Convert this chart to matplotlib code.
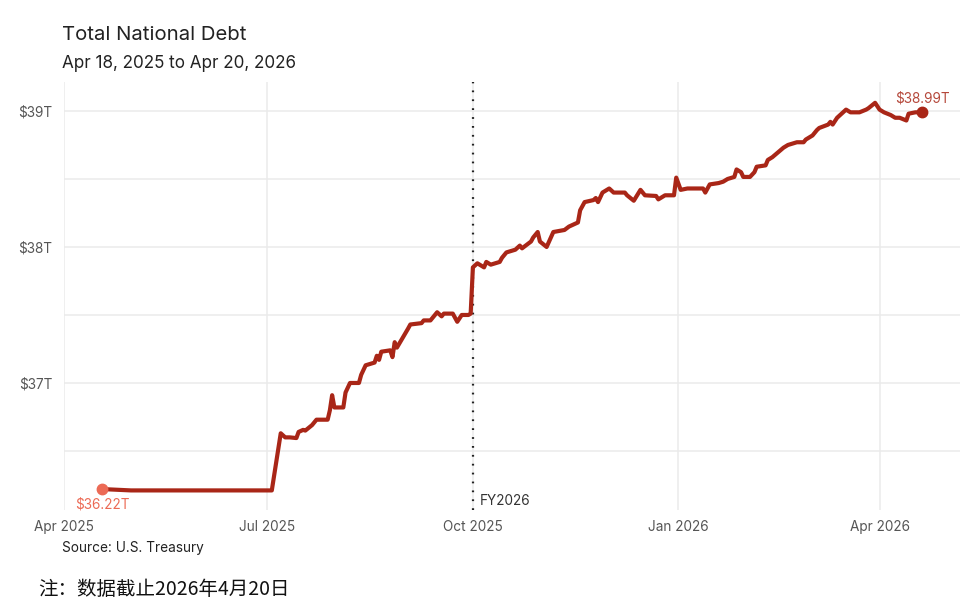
import matplotlib
matplotlib.use("Agg")
import matplotlib.pyplot as plt
import matplotlib.dates as mdates
import pandas as pd
import numpy as np

plt.rcParams['font.family'] = ['Inter', 'Noto Sans CJK SC', 'DejaVu Sans']

# ---------------- data ----------------
dates = [
    "2025-04-18", "2025-05-01", "2025-05-15", "2025-06-02", "2025-06-16", "2025-07-02", "2025-07-03",
    "2025-07-07", "2025-07-09", "2025-07-11", "2025-07-14", "2025-07-15", "2025-07-17", "2025-07-18",
    "2025-07-21", "2025-07-23", "2025-07-28", "2025-07-29", "2025-07-30", "2025-07-31", "2025-08-04",
    "2025-08-05", "2025-08-07", "2025-08-11", "2025-08-12", "2025-08-14", "2025-08-18", "2025-08-19",
    "2025-08-20", "2025-08-21", "2025-08-25", "2025-08-26", "2025-08-27", "2025-08-28", "2025-09-02",
    "2025-09-03", "2025-09-08", "2025-09-09", "2025-09-12", "2025-09-15", "2025-09-17", "2025-09-18",
    "2025-09-22", "2025-09-24", "2025-09-26", "2025-09-29", "2025-09-30", "2025-10-01", "2025-10-03",
    "2025-10-06", "2025-10-07", "2025-10-09", "2025-10-13", "2025-10-14", "2025-10-16", "2025-10-20",
    "2025-10-22", "2025-10-23", "2025-10-27", "2025-10-28", "2025-10-30", "2025-10-31", "2025-11-03",
    "2025-11-06", "2025-11-11", "2025-11-13", "2025-11-17", "2025-11-18", "2025-11-20", "2025-11-24",
    "2025-11-25", "2025-11-26", "2025-11-28", "2025-12-01", "2025-12-03", "2025-12-08", "2025-12-09",
    "2025-12-12", "2025-12-15", "2025-12-17", "2025-12-22", "2025-12-23", "2025-12-26", "2025-12-30",
    "2025-12-31", "2026-01-02", "2026-01-05", "2026-01-07", "2026-01-12", "2026-01-13", "2026-01-15",
    "2026-01-19", "2026-01-21", "2026-01-23", "2026-01-26", "2026-01-27", "2026-01-29", "2026-01-30",
    "2026-02-02", "2026-02-04", "2026-02-05", "2026-02-09", "2026-02-10", "2026-02-12", "2026-02-17",
    "2026-02-19", "2026-02-23", "2026-02-26", "2026-02-27", "2026-03-02", "2026-03-04", "2026-03-05",
    "2026-03-09", "2026-03-10", "2026-03-11", "2026-03-13", "2026-03-17", "2026-03-19", "2026-03-23",
    "2026-03-26", "2026-03-27", "2026-03-30", "2026-04-01", "2026-04-03", "2026-04-06", "2026-04-08",
    "2026-04-10", "2026-04-13", "2026-04-14", "2026-04-17", "2026-04-20",
]
debt_trillions = [
    36.22, 36.21, 36.21, 36.21, 36.21, 36.21, 36.21,
    36.63, 36.60, 36.60, 36.595, 36.64, 36.655, 36.65,
    36.69, 36.73, 36.73, 36.80, 36.91, 36.82, 36.82,
    36.93, 37.00, 37.00, 37.06, 37.13, 37.15, 37.20,
    37.17, 37.23, 37.24, 37.19, 37.30, 37.26, 37.40,
    37.43, 37.44, 37.46, 37.46, 37.52, 37.49, 37.51,
    37.51, 37.45, 37.50, 37.50, 37.51, 37.85, 37.88,
    37.85, 37.89, 37.87, 37.89, 37.92, 37.96, 37.98,
    38.01, 37.99, 38.04, 38.07, 38.11, 38.04, 38.00,
    38.11, 38.125, 38.15, 38.18, 38.27, 38.33, 38.345,
    38.36, 38.33, 38.40, 38.43, 38.40, 38.40, 38.38,
    38.34, 38.42, 38.38, 38.375, 38.35, 38.38, 38.38,
    38.51, 38.42, 38.43, 38.43, 38.43, 38.40, 38.46,
    38.47, 38.48, 38.50, 38.515, 38.57, 38.55, 38.515,
    38.515, 38.55, 38.59, 38.60, 38.64, 38.66, 38.73,
    38.75, 38.77, 38.77, 38.79, 38.82, 38.86, 38.875,
    38.90, 38.92, 38.90, 38.95, 39.01, 38.99, 38.99,
    39.01, 39.02, 39.06, 39.01, 38.99, 38.97, 38.95,
    38.95, 38.93, 38.98, 38.99, 38.99,
]
y_major = [37, 38, 39]
y_minor = [36.5, 37.5, 38.5]
y_labels = ["$37T", "$38T", "$39T"]
x_ticks = ["2025-04-01", "2025-07-01", "2025-10-01", "2026-01-01", "2026-04-01"]
x_labels = ["Apr 2025", "Jul 2025", "Oct 2025", "Jan 2026", "Apr 2026"]
fy_date = "2025-10-01"
start_label = "$36.22T"
end_label = "$38.99T"

title = "Total National Debt"
subtitle = "Apr 18, 2025 to Apr 20, 2026"
source = "Source: U.S. Treasury"
note = "注：数据截止2026年4月20日"

# ---------------- plot ----------------
x = pd.to_datetime(dates)
y = np.array(debt_trillions)

W, H = 967, 602
fig = plt.figure(figsize=(W / 100, H / 100), dpi=100)
fig.patch.set_facecolor("white")
ax = fig.add_axes([64 / W, 1 - 510 / H, (960 - 64) / W, (510 - 82) / H])

line_color = "#a92617"
start_color = "#ec6a55"
grid_color = "#ebebeb"

ax.set_xlim(pd.Timestamp("2025-04-01"), pd.Timestamp("2026-05-07"))
ax.set_ylim(36.066, 39.213)

for v in y_major + y_minor:
    ax.axhline(v, color=grid_color, lw=1.1, zorder=0)
for t in x_ticks:
    ax.axvline(pd.Timestamp(t), color=grid_color, lw=1.1, zorder=0)

ax.axvline(pd.Timestamp(fy_date), color="#222222", lw=1.6, ls=(0, (0.8, 3.2)), zorder=1)
ax.text(pd.Timestamp(fy_date) + pd.Timedelta(days=3), 36.13, "FY2026",
        fontsize=9.8, color="#333333", ha="left", va="center")

ax.plot(x, y, color=line_color, lw=3.0, solid_joinstyle="round", zorder=3)
ax.plot(x[0], y[0], "o", color=start_color, ms=7.5, zorder=4)
ax.plot(x[-1], y[-1], "o", color=line_color, ms=7.5, zorder=4)
ax.text(x[0], y[0] - 0.06, start_label, color=start_color, fontsize=9.8, ha="center", va="top")
ax.text(x[-1], y[-1] + 0.05, end_label, color="#b5483b", fontsize=9.8, ha="center", va="bottom")

ax.set_yticks(y_major)
ax.set_yticklabels(y_labels)
ax.set_xticks(pd.to_datetime(x_ticks))
ax.set_xticklabels(x_labels)
ax.tick_params(axis="both", length=0, labelsize=9.8, labelcolor="#555555")
ax.tick_params(axis="y", pad=8.5)
ax.tick_params(axis="x", pad=7)
for s in ax.spines.values():
    s.set_visible(False)
ax.set_facecolor("white")

fig.text(62 / W, 1 - 35 / H, title, fontsize=14.6, color="#222222", ha="left", va="center")
fig.text(62 / W, 1 - 63 / H, subtitle, fontsize=12.3, color="#222222", ha="left", va="center")
fig.text(62 / W, 1 - 548 / H, source, fontsize=9.8, color="#222222", ha="left", va="center")
fig.text(38 / W, 2 / H, note, fontsize=14, color="#111111", ha="left", va="bottom",
         family=['Noto Sans CJK SC', 'DejaVu Sans'])

fig.savefig("out.png", dpi=100, facecolor="white")
